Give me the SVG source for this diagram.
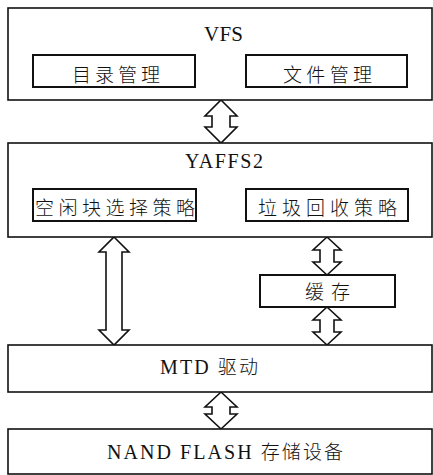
<svg xmlns="http://www.w3.org/2000/svg" width="433" height="475" viewBox="0 0 433 475">
<style>
.outer{fill:#fff;stroke:#111;stroke-width:1.6}
.inner{fill:#fff;stroke:#111;stroke-width:2}
.arr{fill:#fff;stroke:#111;stroke-width:1.6;stroke-linejoin:miter}
.lat{font-family:"Liberation Serif","Times New Roman","DejaVu Serif",serif;fill:#111}
.cjk{font-family:"Noto Sans CJK SC","Noto Sans CJK JP",sans-serif;font-size:19px;font-weight:300;fill:#111}
</style>
<rect width="433" height="475" fill="#fff"/>
<g id="connectors">
<path class="arr" d="M221,100 L237,116 L230,116 L230,127 L237,127 L221,143 L205,127 L212,127 L212,116 L205,116 Z"/>
<path class="arr" d="M114,237 L129,252 L122,252 L122,330 L129,330 L114,345 L99,330 L106,330 L106,252 L99,252 Z"/>
<path class="arr" d="M327,237 L341,250 L334,250 L334,262 L341,262 L327,275 L313,262 L320,262 L320,250 L313,250 Z"/>
<path class="arr" d="M327,307 L341,320 L334,320 L334,332 L341,332 L327,345 L313,332 L320,332 L320,320 L313,320 Z"/>
<path class="arr" d="M221,392 L237,407 L230,407 L230,414 L237,414 L221,429 L205,414 L212,414 L212,407 L205,407 Z"/>
</g>
<g id="vfs">
<rect class="outer" x="8" y="8" width="424" height="92"/>
<text class="lat" x="204" y="41" font-size="21" textLength="39" lengthAdjust="spacing">VFS</text>
</g>
<g id="dir-mgmt">
<rect class="inner" x="33" y="55" width="162" height="32"/>
<text class="cjk" x="72" y="82" textLength="88" lengthAdjust="spacing">目录管理</text>
</g>
<g id="file-mgmt">
<rect class="inner" x="246" y="55" width="161" height="32"/>
<text class="cjk" x="283" y="82" textLength="89" lengthAdjust="spacing">文件管理</text>
</g>
<g id="yaffs2">
<rect class="outer" x="8" y="143" width="424" height="94"/>
<text class="lat" x="185" y="168" font-size="20" textLength="78" lengthAdjust="spacing">YAFFS2</text>
</g>
<g id="free-block">
<rect class="inner" x="33" y="189" width="163" height="32"/>
<text class="cjk" x="35" y="215" textLength="160" lengthAdjust="spacing">空闲块选择策略</text>
</g>
<g id="gc">
<rect class="inner" x="246" y="189" width="162" height="32"/>
<text class="cjk" x="258" y="215" textLength="139" lengthAdjust="spacing">垃圾回收策略</text>
</g>
<g id="cache">
<rect class="inner" x="260" y="275" width="135" height="32"/>
<text class="cjk" x="305" y="299" textLength="45" lengthAdjust="spacing">缓存</text>
</g>
<g id="mtd">
<rect class="outer" x="8" y="345" width="424" height="47"/>
<text class="lat" x="160" y="374" font-size="20" textLength="98" lengthAdjust="spacing">MTD <tspan class="cjk" font-size="19">驱动</tspan></text>
</g>
<g id="nand">
<rect class="outer" x="8" y="429" width="424" height="45"/>
<text class="lat" x="107" y="459" font-size="20" textLength="236" lengthAdjust="spacing">NAND FLASH <tspan class="cjk" font-size="19">存储设备</tspan></text>
</g>
</svg>
